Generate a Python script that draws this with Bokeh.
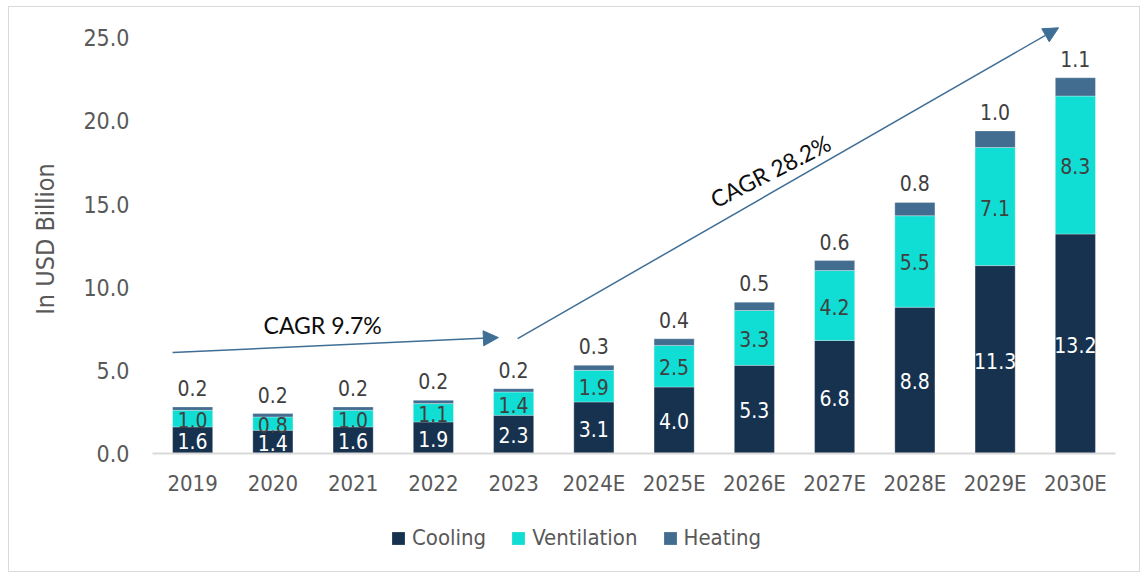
from bokeh.plotting import figure
from bokeh.layouts import column
from bokeh.models import (ColumnDataSource, FactorRange, Range1d, FixedTicker, LabelSet,
                          Label, Arrow, NormalHead, Legend, LegendItem, NumeralTickFormatter)
from bokeh.core.properties import value
from bokeh.embed import file_html
from bokeh.resources import INLINE

# ---------------- data ----------------
years = ["2019", "2020", "2021", "2022", "2023", "2024E", "2025E",
         "2026E", "2027E", "2028E", "2029E", "2030E"]
cooling = [1.6, 1.4, 1.6, 1.9, 2.3, 3.1, 4.0, 5.3, 6.8, 8.8, 11.3, 13.2]
ventilation = [1.0, 0.8, 1.0, 1.1, 1.4, 1.9, 2.5, 3.3, 4.2, 5.5, 7.1, 8.3]
heating = [0.2, 0.2, 0.2, 0.2, 0.2, 0.3, 0.4, 0.5, 0.6, 0.8, 1.0, 1.1]
series_names = ["Cooling", "Ventilation", "Heating"]
y_ticks = [0, 5, 10, 15, 20, 25]
y_axis_title = "In USD Billion"
cagr_texts = ["CAGR 9.7%", "CAGR 28.2%"]

# ---------------- styling ----------------
FONT = "DejaVu Sans Condensed"
C_COOL = "#17324f"
C_VENT = "#10ddd3"
C_HEAT = "#426c90"
C_ARROW = "#3f6e96"
C_AXTXT = "#595959"
C_LBL = "#404040"
colors = [C_COOL, C_VENT, C_HEAT]

v_bottom = cooling
v_top = [c + v for c, v in zip(cooling, ventilation)]
h_top = [t + h for t, h in zip(v_top, heating)]

src = ColumnDataSource(dict(
    year=years,
    zero=[0] * len(years),
    cool=cooling, vent=ventilation, heat=heating,
    vbot=v_bottom, vtop=v_top, htop=h_top,
    cmid=[c / 2 for c in cooling],
    vmid=[(b + t) / 2 for b, t in zip(v_bottom, v_top)],
    clab=[f"{x:.1f}" for x in cooling],
    vlab=[f"{x:.1f}" for x in ventilation],
    hlab=[f"{x:.1f}" for x in heating],
))
stack_cols = [("zero", "cool"), ("vbot", "vtop"), ("vtop", "htop")]

p = figure(x_range=FactorRange(*years), y_range=Range1d(0, 25.8),
           width=1130, height=500, output_backend="svg", toolbar_location=None,
           min_border_left=143, min_border_right=24, min_border_top=17,
           min_border_bottom=54)
p.outline_line_color = None
p.xgrid.grid_line_color = None
p.ygrid.grid_line_color = None
p.background_fill_color = "white"
p.border_fill_color = "white"

for (b, t), col in zip(stack_cols, colors):
    p.vbar(x="year", bottom=b, top=t, width=0.5, source=src,
           fill_color=col, line_color="#ffffff", line_width=0.6, line_alpha=0.5)

# data labels
p.add_layout(LabelSet(x="year", y="cmid", text="clab", source=src, text_align="center",
                      text_baseline="middle", text_color="white", text_font=value(FONT),
                      text_font_size="21px", y_offset=-1))
p.add_layout(LabelSet(x="year", y="vmid", text="vlab", source=src, text_align="center",
                      text_baseline="middle", text_color=C_LBL, text_font=value(FONT),
                      text_font_size="21px", y_offset=-1))
p.add_layout(LabelSet(x="year", y="htop", text="hlab", source=src, text_align="center",
                      text_baseline="alphabetic", text_color=C_LBL, text_font=value(FONT),
                      text_font_size="21px", y_offset=11))

# axes
p.yaxis.ticker = FixedTicker(ticks=y_ticks)
p.yaxis.formatter = NumeralTickFormatter(format="0.0")
p.yaxis.axis_line_color = None
p.yaxis.major_tick_line_color = None
p.yaxis.minor_tick_line_color = None
p.yaxis.major_label_standoff = 17
p.yaxis.major_label_text_font = FONT
p.yaxis.major_label_text_font_size = "23px"
p.yaxis.major_label_text_color = C_AXTXT
p.yaxis.axis_label = y_axis_title
p.yaxis.axis_label_text_font = FONT
p.yaxis.axis_label_text_font_size = "25px"
p.yaxis.axis_label_text_font_style = "normal"
p.yaxis.axis_label_text_color = C_AXTXT
p.yaxis.axis_label_standoff = 20

p.xaxis.axis_line_color = "#d9d9d9"
p.xaxis.axis_line_width = 2
p.xaxis.major_tick_line_color = None
p.xaxis.minor_tick_line_color = None
p.xaxis.major_label_standoff = 11
p.xaxis.major_label_text_font = FONT
p.xaxis.major_label_text_font_size = "22px"
p.xaxis.major_label_text_color = C_AXTXT

# CAGR arrows (synthetic categorical coordinates)
p.add_layout(Arrow(end=NormalHead(size=15, fill_color=C_ARROW, line_color=C_ARROW),
                   x_start=0.25, y_start=6.07, x_end=4.31, y_end=6.97,
                   line_color=C_ARROW, line_width=1.5))
p.add_layout(Arrow(end=NormalHead(size=15, fill_color=C_ARROW, line_color=C_ARROW),
                   x_start=4.55, y_start=6.91, x_end=11.29, y_end=25.6,
                   line_color=C_ARROW, line_width=1.5))
p.add_layout(Label(x=2.12, y=7.75, text=cagr_texts[0], text_align="center",
                   text_baseline="middle", text_font="Lato", text_font_size="23px",
                   text_color="#0d0d0d"))
p.add_layout(Label(x=7.70, y=17.0, text=cagr_texts[1], text_align="center",
                   text_baseline="middle", text_font="Lato", text_font_size="23px",
                   text_color="#0d0d0d", angle=27, angle_units="deg"))

# ---------------- legend strip ----------------
# The strip's renderers (zero width, out of range) only feed the legend swatches.
pl = figure(width=1130, height=64, output_backend="svg", toolbar_location=None,
            x_axis_location=None, y_axis_location=None,
            x_range=FactorRange(*years), y_range=Range1d(-1001, -1000),
            min_border_left=0, min_border_right=0, min_border_top=0, min_border_bottom=0)
pl.outline_line_color = None
pl.xgrid.grid_line_color = None
pl.ygrid.grid_line_color = None
pl.border_fill_color = "white"
pl.background_fill_color = "white"
items = []
for name, (b, t), col in zip(series_names, stack_cols, colors):
    r = pl.vbar(x="year", bottom=b, top=t, width=0, source=src,
                fill_color=col, line_color=None)
    items.append(LegendItem(label=name, renderers=[r]))
legend = Legend(items=items, orientation="horizontal", location=(238, 21),
                glyph_width=16, glyph_height=16, label_standoff=6, spacing=24,
                padding=0, margin=0, border_line_color=None, background_fill_alpha=0,
                label_text_font=FONT, label_text_font_size="22px",
                label_text_color=C_AXTXT)
pl.add_layout(legend, "center")

layout = column(p, pl, spacing=0)
layout.styles = {"border": "1px solid #d9d9d9", "margin-left": "8px", "margin-top": "6px"}

open("out.html", "w").write(file_html(layout, INLINE))
